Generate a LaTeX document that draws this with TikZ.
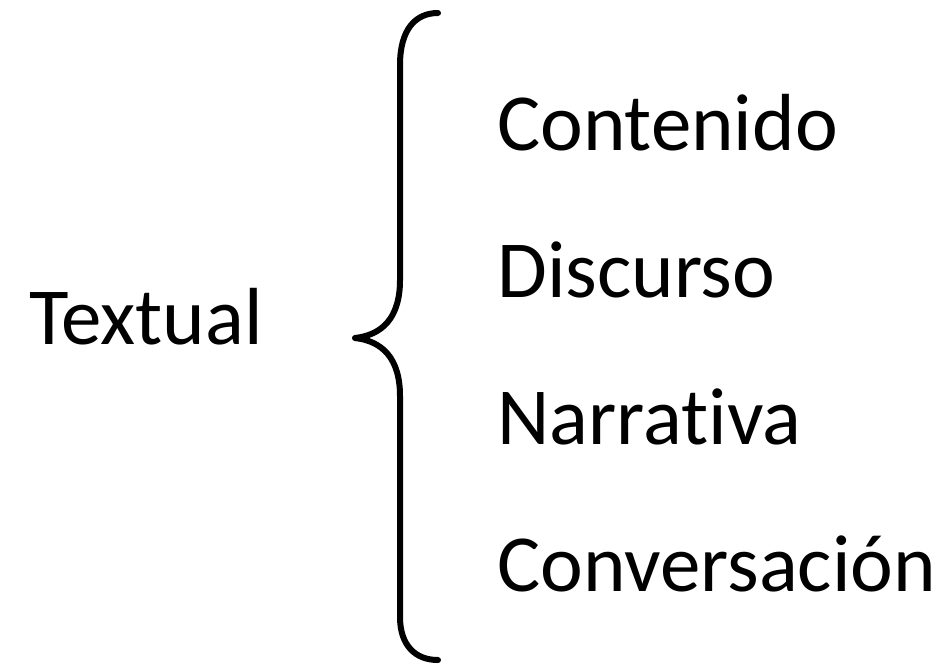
\documentclass[tikz,border=0pt]{standalone}
\usepackage{fontspec}
\setmainfont[Ligatures=NoCommon]{Carlito}
\begin{document}
\begin{tikzpicture}[x=1pt,y=-1pt,
  lbl/.style={anchor=base west,inner sep=0pt,font=\fontsize{81}{90}\selectfont},
  brace/.style={line width=6pt,line cap=round,line join=round}]
\useasboundingbox (0,0) rectangle (949,664);
\node[lbl] (textual) at (29,344) {Textual};
\node[lbl] (c1) at (497,150) {Contenido};
\node[lbl] (c2) at (497,297) {Discurso};
\node[lbl] (c3) at (497,444) {Narrativa};
\node[lbl] (c4) at (497,591) {Conversación};
\coordinate (top) at (438,13);
\coordinate (tip) at (355,338);
\coordinate (bot) at (438,660);
\draw[brace] (top) .. controls (415,13) and (400,30) .. (400,65) -- (400,280)
  .. controls (400,318) and (382,335) .. (tip)
  .. controls (382,341) and (400,358) .. (400,396) -- (400,617)
  .. controls (400,645) and (415,660) .. (bot);
\end{tikzpicture}
\end{document}
